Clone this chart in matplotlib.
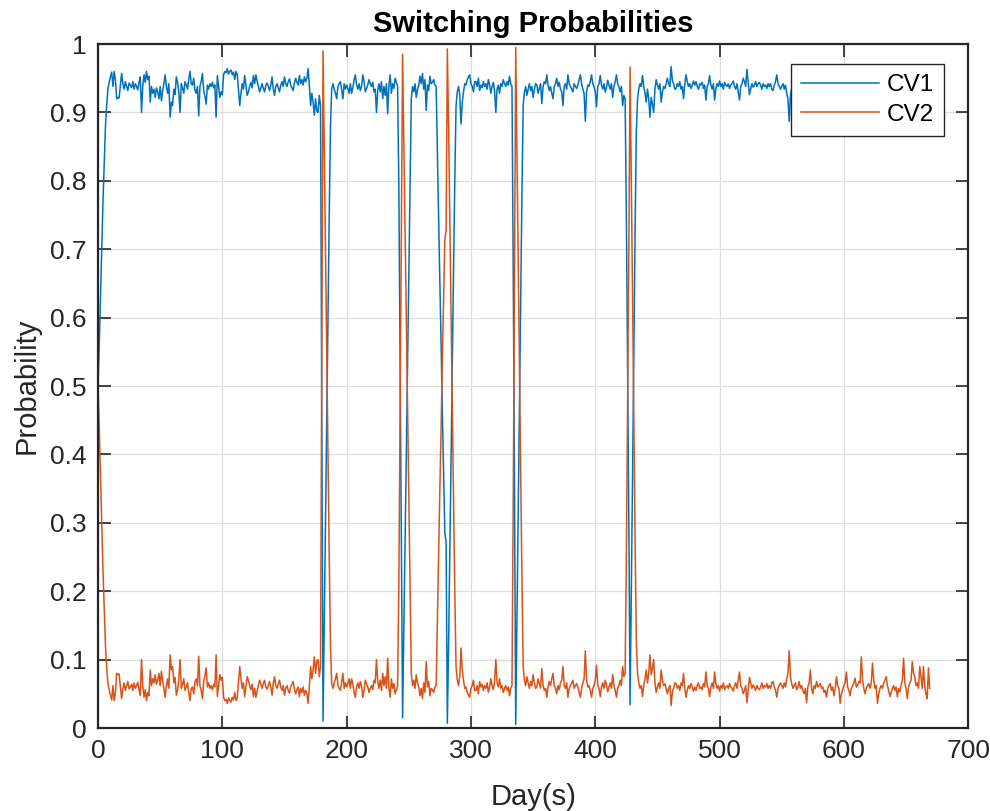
import matplotlib
matplotlib.use("Agg")
import matplotlib.pyplot as plt
import numpy as np

plt.rcParams["font.family"] = ["Liberation Sans", "DejaVu Sans"]

# day index (one sample per day)
days = np.arange(670)

# CV1 probability
cv1 = [
    0.500, 0.560, 0.630, 0.700, 0.770, 0.825, 0.880, 0.912, 0.935, 0.944,
    0.952, 0.959, 0.938, 0.960, 0.948, 0.920, 0.922, 0.921, 0.940, 0.957,
    0.942, 0.934, 0.945, 0.938, 0.932, 0.943, 0.940, 0.936, 0.945, 0.934,
    0.942, 0.938, 0.933, 0.944, 0.952, 0.900, 0.938, 0.955, 0.944, 0.960,
    0.948, 0.953, 0.915, 0.938, 0.928, 0.934, 0.922, 0.936, 0.930, 0.920,
    0.938, 0.917, 0.932, 0.942, 0.955, 0.938, 0.928, 0.942, 0.893, 0.915,
    0.910, 0.934, 0.926, 0.952, 0.944, 0.930, 0.900, 0.942, 0.936, 0.928,
    0.945, 0.940, 0.934, 0.948, 0.960, 0.942, 0.940, 0.950, 0.932, 0.928,
    0.938, 0.895, 0.938, 0.945, 0.957, 0.932, 0.924, 0.912, 0.940, 0.934,
    0.942, 0.938, 0.944, 0.936, 0.940, 0.893, 0.954, 0.938, 0.922, 0.930,
    0.926, 0.955, 0.960, 0.958, 0.964, 0.956, 0.960, 0.962, 0.955, 0.959,
    0.948, 0.960, 0.956, 0.932, 0.910, 0.928, 0.942, 0.934, 0.954, 0.940,
    0.925, 0.930, 0.938, 0.944, 0.936, 0.954, 0.942, 0.955, 0.946, 0.938,
    0.930, 0.936, 0.942, 0.935, 0.930, 0.940, 0.943, 0.938, 0.932, 0.940,
    0.952, 0.934, 0.925, 0.938, 0.942, 0.936, 0.930, 0.940, 0.945, 0.938,
    0.952, 0.942, 0.938, 0.945, 0.949, 0.940, 0.936, 0.932, 0.943, 0.950,
    0.944, 0.940, 0.954, 0.942, 0.948, 0.940, 0.952, 0.945, 0.950, 0.964,
    0.940, 0.910, 0.928, 0.915, 0.896, 0.920, 0.902, 0.900, 0.925, 0.910,
    0.450, 0.010, 0.150, 0.300, 0.450, 0.600, 0.750, 0.880, 0.935, 0.942,
    0.934, 0.928, 0.920, 0.938, 0.942, 0.945, 0.932, 0.920, 0.942, 0.934,
    0.940, 0.935, 0.928, 0.942, 0.928, 0.936, 0.948, 0.955, 0.940, 0.934,
    0.942, 0.932, 0.938, 0.955, 0.945, 0.930, 0.935, 0.940, 0.948, 0.942,
    0.938, 0.944, 0.930, 0.934, 0.900, 0.932, 0.942, 0.930, 0.945, 0.920,
    0.938, 0.925, 0.942, 0.898, 0.940, 0.955, 0.928, 0.942, 0.935, 0.950,
    0.944, 0.938, 0.790, 0.540, 0.280, 0.015, 0.140, 0.270, 0.400, 0.530,
    0.660, 0.790, 0.920, 0.938, 0.930, 0.942, 0.922, 0.934, 0.940, 0.953,
    0.942, 0.957, 0.934, 0.948, 0.903, 0.940, 0.932, 0.953, 0.942, 0.944,
    0.948, 0.940, 0.938, 0.840, 0.750, 0.650, 0.560, 0.460, 0.370, 0.285,
    0.272, 0.007, 0.120, 0.260, 0.400, 0.540, 0.670, 0.800, 0.910, 0.930,
    0.938, 0.925, 0.883, 0.915, 0.930, 0.942, 0.940, 0.948, 0.952, 0.955,
    0.942, 0.938, 0.930, 0.945, 0.945, 0.938, 0.950, 0.932, 0.940, 0.936,
    0.945, 0.938, 0.942, 0.934, 0.948, 0.940, 0.928, 0.938, 0.944, 0.932,
    0.900, 0.934, 0.940, 0.928, 0.942, 0.938, 0.948, 0.942, 0.938, 0.945,
    0.940, 0.953, 0.942, 0.938, 0.670, 0.360, 0.005, 0.160, 0.320, 0.480,
    0.630, 0.780, 0.910, 0.930, 0.938, 0.925, 0.934, 0.942, 0.932, 0.938,
    0.922, 0.934, 0.942, 0.940, 0.928, 0.935, 0.942, 0.913, 0.938, 0.945,
    0.942, 0.955, 0.940, 0.932, 0.938, 0.928, 0.920, 0.938, 0.942, 0.950,
    0.938, 0.944, 0.934, 0.930, 0.910, 0.938, 0.942, 0.934, 0.955, 0.942,
    0.938, 0.934, 0.930, 0.942, 0.938, 0.935, 0.940, 0.948, 0.955, 0.942,
    0.934, 0.928, 0.887, 0.930, 0.940, 0.938, 0.945, 0.955, 0.942, 0.938,
    0.930, 0.908, 0.938, 0.942, 0.954, 0.940, 0.934, 0.942, 0.930, 0.936,
    0.947, 0.940, 0.934, 0.942, 0.922, 0.938, 0.945, 0.955, 0.942, 0.938,
    0.930, 0.938, 0.910, 0.925, 0.920, 0.750, 0.530, 0.300, 0.034, 0.200,
    0.370, 0.550, 0.720, 0.870, 0.920, 0.934, 0.942, 0.938, 0.954, 0.938,
    0.928, 0.915, 0.934, 0.920, 0.893, 0.922, 0.912, 0.900, 0.934, 0.948,
    0.940, 0.934, 0.942, 0.915, 0.930, 0.938, 0.935, 0.942, 0.950, 0.942,
    0.938, 0.967, 0.947, 0.942, 0.934, 0.935, 0.942, 0.938, 0.945, 0.934,
    0.938, 0.920, 0.942, 0.955, 0.945, 0.938, 0.942, 0.935, 0.940, 0.946,
    0.940, 0.945, 0.938, 0.934, 0.942, 0.940, 0.944, 0.935, 0.940, 0.918,
    0.938, 0.942, 0.954, 0.940, 0.934, 0.942, 0.918, 0.935, 0.942, 0.938,
    0.946, 0.938, 0.942, 0.934, 0.944, 0.940, 0.938, 0.942, 0.935, 0.940,
    0.942, 0.946, 0.938, 0.934, 0.942, 0.930, 0.918, 0.938, 0.942, 0.950,
    0.945, 0.938, 0.963, 0.945, 0.926, 0.934, 0.942, 0.937, 0.940, 0.945,
    0.938, 0.942, 0.944, 0.940, 0.934, 0.942, 0.938, 0.940, 0.935, 0.942,
    0.938, 0.942, 0.934, 0.932, 0.940, 0.945, 0.955, 0.942, 0.938, 0.934,
    0.938, 0.942, 0.934, 0.940, 0.928, 0.920, 0.887, 0.925, 0.935, 0.942,
    0.938, 0.934, 0.944, 0.940, 0.932, 0.942, 0.938, 0.945, 0.950, 0.942,
    0.963, 0.940, 0.934, 0.915, 0.942, 0.950, 0.938, 0.942, 0.932, 0.940,
    0.938, 0.935, 0.942, 0.940, 0.948, 0.945, 0.955, 0.942, 0.938, 0.935,
    0.945, 0.940, 0.953, 0.942, 0.925, 0.938, 0.942, 0.964, 0.950, 0.944,
    0.938, 0.934, 0.918, 0.940, 0.945, 0.953, 0.942, 0.938, 0.934, 0.927,
    0.940, 0.938, 0.932, 0.934, 0.896, 0.930, 0.942, 0.950, 0.942, 0.938,
    0.935, 0.942, 0.934, 0.905, 0.930, 0.942, 0.938, 0.964, 0.950, 0.942,
    0.938, 0.942, 0.934, 0.930, 0.925, 0.938, 0.945, 0.954, 0.948, 0.942,
    0.938, 0.945, 0.940, 0.954, 0.942, 0.947, 0.938, 0.930, 0.898, 0.934,
    0.942, 0.957, 0.940, 0.934, 0.930, 0.903, 0.920, 0.925, 0.938, 0.934,
    0.942, 0.910, 0.925, 0.942, 0.910, 0.938, 0.950, 0.957, 0.912, 0.942,
]

# CV2 probability
cv2 = [
    0.500, 0.440, 0.370, 0.300, 0.230, 0.175, 0.120, 0.088, 0.065, 0.056,
    0.048, 0.041, 0.062, 0.040, 0.052, 0.080, 0.078, 0.079, 0.060, 0.043,
    0.058, 0.066, 0.055, 0.062, 0.068, 0.057, 0.060, 0.064, 0.055, 0.066,
    0.058, 0.062, 0.067, 0.056, 0.048, 0.100, 0.062, 0.045, 0.056, 0.040,
    0.052, 0.047, 0.085, 0.062, 0.072, 0.066, 0.078, 0.064, 0.070, 0.080,
    0.062, 0.083, 0.068, 0.058, 0.045, 0.062, 0.072, 0.058, 0.107, 0.085,
    0.090, 0.066, 0.074, 0.048, 0.056, 0.070, 0.100, 0.058, 0.064, 0.072,
    0.055, 0.060, 0.066, 0.052, 0.040, 0.058, 0.060, 0.050, 0.068, 0.072,
    0.062, 0.105, 0.062, 0.055, 0.043, 0.068, 0.076, 0.088, 0.060, 0.066,
    0.058, 0.062, 0.056, 0.064, 0.060, 0.107, 0.046, 0.062, 0.078, 0.070,
    0.074, 0.045, 0.040, 0.042, 0.036, 0.044, 0.040, 0.038, 0.045, 0.041,
    0.052, 0.040, 0.044, 0.068, 0.090, 0.072, 0.058, 0.066, 0.046, 0.060,
    0.075, 0.070, 0.062, 0.056, 0.064, 0.046, 0.058, 0.045, 0.054, 0.062,
    0.070, 0.064, 0.058, 0.065, 0.070, 0.060, 0.057, 0.062, 0.068, 0.060,
    0.048, 0.066, 0.075, 0.062, 0.058, 0.064, 0.070, 0.060, 0.055, 0.062,
    0.048, 0.058, 0.062, 0.055, 0.051, 0.060, 0.064, 0.068, 0.057, 0.050,
    0.056, 0.060, 0.046, 0.058, 0.052, 0.060, 0.048, 0.055, 0.050, 0.036,
    0.060, 0.090, 0.072, 0.085, 0.104, 0.080, 0.098, 0.100, 0.075, 0.090,
    0.550, 0.990, 0.850, 0.700, 0.550, 0.400, 0.250, 0.120, 0.065, 0.058,
    0.066, 0.072, 0.080, 0.062, 0.058, 0.055, 0.068, 0.080, 0.058, 0.066,
    0.060, 0.065, 0.072, 0.058, 0.072, 0.064, 0.052, 0.045, 0.060, 0.066,
    0.058, 0.068, 0.062, 0.045, 0.055, 0.070, 0.065, 0.060, 0.052, 0.058,
    0.062, 0.056, 0.070, 0.066, 0.100, 0.068, 0.058, 0.070, 0.055, 0.080,
    0.062, 0.075, 0.058, 0.102, 0.060, 0.045, 0.072, 0.058, 0.065, 0.050,
    0.056, 0.062, 0.210, 0.460, 0.720, 0.985, 0.860, 0.730, 0.600, 0.470,
    0.340, 0.210, 0.080, 0.062, 0.070, 0.058, 0.078, 0.066, 0.060, 0.047,
    0.058, 0.043, 0.066, 0.052, 0.097, 0.060, 0.068, 0.047, 0.058, 0.056,
    0.052, 0.060, 0.062, 0.160, 0.250, 0.350, 0.440, 0.540, 0.630, 0.715,
    0.728, 0.993, 0.880, 0.740, 0.600, 0.460, 0.330, 0.200, 0.090, 0.070,
    0.062, 0.075, 0.117, 0.085, 0.070, 0.058, 0.060, 0.052, 0.048, 0.045,
    0.058, 0.062, 0.070, 0.055, 0.055, 0.062, 0.050, 0.068, 0.060, 0.064,
    0.055, 0.062, 0.058, 0.066, 0.052, 0.060, 0.072, 0.062, 0.056, 0.068,
    0.100, 0.066, 0.060, 0.072, 0.058, 0.062, 0.052, 0.058, 0.062, 0.055,
    0.060, 0.047, 0.058, 0.062, 0.330, 0.640, 0.995, 0.840, 0.680, 0.520,
    0.370, 0.220, 0.090, 0.070, 0.062, 0.075, 0.066, 0.058, 0.068, 0.062,
    0.078, 0.066, 0.058, 0.060, 0.072, 0.065, 0.058, 0.087, 0.062, 0.055,
    0.058, 0.045, 0.060, 0.068, 0.062, 0.072, 0.080, 0.062, 0.058, 0.050,
    0.062, 0.056, 0.066, 0.070, 0.090, 0.062, 0.058, 0.066, 0.045, 0.058,
    0.062, 0.066, 0.070, 0.058, 0.062, 0.065, 0.060, 0.052, 0.045, 0.058,
    0.066, 0.072, 0.113, 0.070, 0.060, 0.062, 0.055, 0.045, 0.058, 0.062,
    0.070, 0.092, 0.062, 0.058, 0.046, 0.060, 0.066, 0.058, 0.070, 0.064,
    0.053, 0.060, 0.066, 0.058, 0.078, 0.062, 0.055, 0.045, 0.058, 0.062,
    0.070, 0.062, 0.090, 0.075, 0.080, 0.250, 0.470, 0.700, 0.966, 0.800,
    0.630, 0.450, 0.280, 0.130, 0.080, 0.066, 0.058, 0.062, 0.046, 0.062,
    0.072, 0.085, 0.066, 0.080, 0.107, 0.078, 0.088, 0.100, 0.066, 0.052,
    0.060, 0.066, 0.058, 0.085, 0.070, 0.062, 0.065, 0.058, 0.050, 0.058,
    0.062, 0.033, 0.053, 0.058, 0.066, 0.065, 0.058, 0.062, 0.055, 0.066,
    0.062, 0.080, 0.058, 0.045, 0.055, 0.062, 0.058, 0.065, 0.060, 0.054,
    0.060, 0.055, 0.062, 0.066, 0.058, 0.060, 0.056, 0.065, 0.060, 0.082,
    0.062, 0.058, 0.046, 0.060, 0.066, 0.058, 0.082, 0.065, 0.058, 0.062,
    0.054, 0.062, 0.058, 0.066, 0.056, 0.060, 0.062, 0.058, 0.065, 0.060,
    0.058, 0.054, 0.062, 0.066, 0.058, 0.070, 0.082, 0.062, 0.058, 0.050,
    0.055, 0.062, 0.037, 0.055, 0.074, 0.066, 0.058, 0.063, 0.060, 0.055,
    0.062, 0.058, 0.056, 0.060, 0.066, 0.058, 0.062, 0.060, 0.065, 0.058,
    0.062, 0.058, 0.066, 0.068, 0.060, 0.055, 0.045, 0.058, 0.062, 0.066,
    0.062, 0.058, 0.066, 0.060, 0.072, 0.080, 0.113, 0.075, 0.065, 0.058,
    0.062, 0.066, 0.056, 0.060, 0.068, 0.058, 0.062, 0.055, 0.050, 0.058,
    0.037, 0.060, 0.066, 0.085, 0.058, 0.050, 0.062, 0.058, 0.068, 0.060,
    0.062, 0.065, 0.058, 0.060, 0.052, 0.055, 0.045, 0.058, 0.062, 0.065,
    0.055, 0.060, 0.047, 0.058, 0.075, 0.062, 0.058, 0.036, 0.050, 0.056,
    0.062, 0.066, 0.082, 0.060, 0.055, 0.047, 0.058, 0.062, 0.066, 0.073,
    0.060, 0.062, 0.068, 0.066, 0.104, 0.070, 0.058, 0.050, 0.058, 0.062,
    0.065, 0.058, 0.066, 0.095, 0.070, 0.058, 0.062, 0.036, 0.050, 0.058,
    0.062, 0.058, 0.066, 0.070, 0.075, 0.062, 0.055, 0.046, 0.052, 0.058,
    0.062, 0.055, 0.060, 0.046, 0.058, 0.053, 0.062, 0.070, 0.102, 0.066,
    0.058, 0.043, 0.060, 0.066, 0.070, 0.097, 0.080, 0.075, 0.062, 0.066,
    0.058, 0.090, 0.075, 0.058, 0.090, 0.062, 0.050, 0.043, 0.088, 0.058,
]

x_ticks = [0, 100, 200, 300, 400, 500, 600, 700]
y_ticks = [0, 0.1, 0.2, 0.3, 0.4, 0.5, 0.6, 0.7, 0.8, 0.9, 1]
y_labels = ["0", "0.1", "0.2", "0.3", "0.4", "0.5", "0.6", "0.7", "0.8", "0.9", "1"]

fig = plt.figure(figsize=(9.9, 8.11), dpi=100)
ax = fig.add_axes([0.099, 0.1023, 0.879, 0.8434])

ax.plot(days, cv1, color="#0072BD", linewidth=1.1, label="CV1")
ax.plot(days, cv2, color="#D95319", linewidth=1.1, label="CV2")

ax.set_xlim(0, 700)
ax.set_ylim(0, 1)
ax.set_xticks(x_ticks)
ax.set_yticks(y_ticks)
ax.set_yticklabels(y_labels)
ax.tick_params(direction="in", length=9, width=1.2, top=True, right=True,
               labelsize=19, colors="#262626", pad=8)
for s in ax.spines.values():
    s.set_linewidth(1.6)
    s.set_color("#262626")
ax.grid(True, color="#DEDEDE", linewidth=0.9)
ax.set_axisbelow(True)

ax.set_title("Switching Probabilities", fontsize=21, fontweight="bold", pad=9)
ax.set_xlabel("Day(s)", fontsize=21, color="#262626", labelpad=14)
ax.set_ylabel("Probability", fontsize=21, color="#262626", labelpad=7)

leg = ax.legend(loc="upper right", bbox_to_anchor=(0.972, 0.971), borderaxespad=0,
                fontsize=17.5, handlelength=3.2, handletextpad=0.3, fancybox=False,
                framealpha=1, edgecolor="#262626", borderpad=0.42, labelspacing=0.32)
leg.get_frame().set_linewidth(1.0)

plt.savefig("out.png", dpi=100)
plt.close()
